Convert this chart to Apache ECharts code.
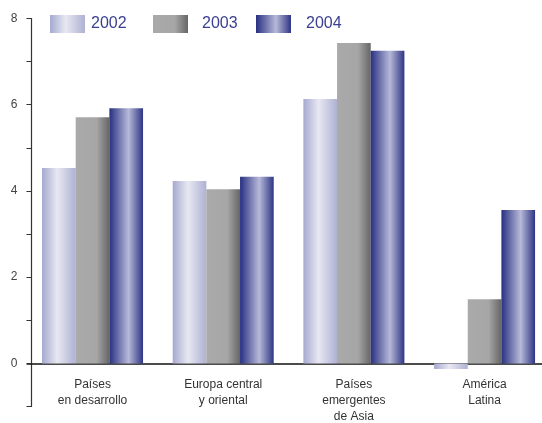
<!DOCTYPE html>
<html>
<head>
<meta charset="utf-8">
<script src="https://cdn.jsdelivr.net/npm/echarts@6/dist/echarts.min.js"></script>
<style>
html,body{margin:0;padding:0;background:#fff;}
#chart{width:542px;height:423px;}
</style>
</head>
<body>
<div id="chart"></div>
<script>
var categories = ['Países\nen desarrollo', 'Europa central\ny oriental', 'Países\nemergentes\nde Asia', 'América\nLatina'];
var seriesNames = ['2002', '2003', '2004'];
var values2002 = [4.53, 4.23, 6.13, -0.13];
var values2003 = [5.71, 4.04, 7.43, 1.49];
var values2004 = [5.92, 4.33, 7.25, 3.56];
var yTicks = [-1, 0, 1, 2, 3, 4, 5, 6, 7, 8];

function grad(stops) {
  return {
    type: 'linear', x: 0, y: 0, x2: 1, y2: 0,
    colorStops: stops.map(function (s) { return { offset: s[0], color: s[1] }; })
  };
}
var fills = [
  grad([[0, '#a5a9cf'], [0.45, '#e8e8f2'], [1, '#aeb1d3']]),
  grad([[0, '#aaaaaa'], [0.62, '#a6a6a6'], [1, '#666666']]),
  grad([[0, '#283082'], [0.57, '#b7b9d8'], [1, '#2e3585']])
];
var allValues = [values2002, values2003, values2004];

var chart = echarts.init(document.getElementById('chart'));
var fontFam = 'Liberation Sans, Arial, sans-serif';
function legendAt(i, left, pad) {
  return {
    data: [seriesNames[i]],
    left: left, top: 15,
    itemWidth: 35, itemHeight: 18,
    icon: 'rect',
    padding: 0,
    textStyle: { color: '#3b4192', fontSize: 16, fontFamily: fontFam, padding: [0, 0, 0, pad] }
  };
}
chart.setOption({
  animation: false,
  backgroundColor: '#ffffff',
  legend: [legendAt(0, 50, 1), legendAt(1, 153, 9), legendAt(2, 256, 10)],
  grid: { left: 27.2, right: -7.9, top: 18.5, bottom: 16.5, containLabel: false, outerBoundsMode: 'none' },
  xAxis: {
    type: 'category',
    data: categories,
    axisLine: { onZero: true, lineStyle: { color: '#111', width: 1.5 } },
    axisTick: { show: false },
    axisLabel: { color: '#333', fontSize: 12, fontFamily: fontFam, lineHeight: 16, margin: -29.5, interval: 0 }
  },
  yAxis: {
    type: 'value',
    min: yTicks[0], max: yTicks[yTicks.length - 1], interval: 1,
    offset: -4.3,
    axisLine: { show: true, lineStyle: { color: '#333', width: 1.2 } },
    axisTick: { show: true, inside: false, length: 5, lineStyle: { color: '#333' } },
    splitLine: { show: false },
    axisLabel: {
      color: '#444', fontSize: 12, fontFamily: fontFam, margin: 14,
      formatter: function (v) { return (v >= 0 && v % 2 === 0) ? String(v) : ''; }
    }
  },
  series: seriesNames.map(function (name, i) {
    return {
      name: name,
      type: 'bar',
      data: allValues[i],
      barGap: '0%',
      barCategoryGap: '22.7%',
      itemStyle: { color: fills[i] }
    };
  })
});
</script>
</body>
</html>
